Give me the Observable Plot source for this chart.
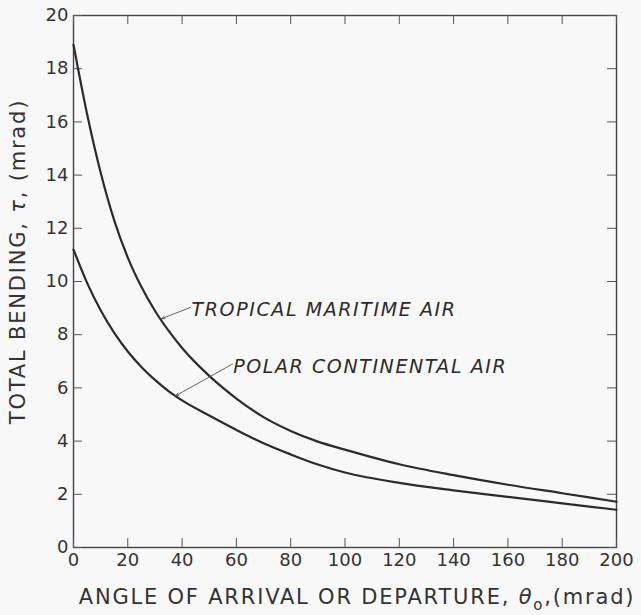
<!DOCTYPE html>
<html><head><meta charset="utf-8">
<script src="https://cdn.jsdelivr.net/npm/d3@7"></script>
<script src="https://cdn.jsdelivr.net/npm/@observablehq/plot@0.6"></script>
<style>body{margin:0;background:#f8f8f8;}</style>
</head><body><div id="chart"></div>
<script>
// Data
const tropicalTheta = [0, 5, 10, 15, 20, 25, 30, 35, 40, 50, 60, 70, 80, 90, 100, 120, 140, 160, 180, 200];
const tropicalBend  = [18.9, 16.3, 14.1, 12.3, 10.9, 9.8, 8.9, 8.15, 7.5, 6.45, 5.6, 4.9, 4.38, 3.98, 3.68, 3.13, 2.72, 2.36, 2.04, 1.72];
const polarTheta = [0, 5, 10, 15, 20, 25, 30, 35, 40, 50, 60, 70, 80, 90, 100, 120, 140, 160, 180, 200];
const polarBend  = [11.2, 9.95, 8.92, 8.07, 7.37, 6.79, 6.3, 5.88, 5.53, 4.96, 4.42, 3.92, 3.5, 3.12, 2.82, 2.43, 2.15, 1.9, 1.66, 1.42];
const xTicks = [0, 20, 40, 60, 80, 100, 120, 140, 160, 180, 200];
const yTicks = [0, 2, 4, 6, 8, 10, 12, 14, 16, 18, 20];
const labelNames = ["TROPICAL MARITIME AIR", "POLAR CONTINENTAL AIR"];
const labelTheta = [43.5, 58.8];
const labelBend = [8.95, 6.78];
const arrowTip = [[32.4, 8.6], [37.6, 5.7]];
const arrowTail = [[43.2, 9.03], [58.6, 6.9]];
const xLabel = "ANGLE OF ARRIVAL OR DEPARTURE, θ₀,(mrad)";
const yLabel = "TOTAL BENDING, τ, (mrad)";

const tropical = tropicalTheta.map((t, i) => ({t, b: tropicalBend[i]}));
const polar = polarTheta.map((t, i) => ({t, b: polarBend[i]}));
const labels = labelNames.map((name, i) => ({name, t: labelTheta[i], b: labelBend[i]}));
const arrows = arrowTip.map((tip, i) => ({x1: arrowTail[i][0], y1: arrowTail[i][1], x2: tip[0], y2: tip[1]}));

const ink = "#2b2b2b";
const W = 641, H = 615, ML = 73, MR = 25, MT = 15, MB = 68, TL = 9;
const fw = W - ML - MR, fh = H - MT - MB;
const chart = Plot.plot({
  width: W, height: H,
  marginLeft: ML, marginRight: MR, marginTop: MT, marginBottom: MB,
  style: {background: "#f8f8f8", fontFamily: "'DejaVu Sans', sans-serif", fontSize: "18px", color: "#333"},
  x: {domain: [0, 200]},
  y: {domain: [0, 20]},
  marks: [
    Plot.frame({stroke: "#444", strokeWidth: 1.4}),
    Plot.axisX({anchor: "bottom", ticks: xTicks, tickSize: 0, tickPadding: 6, label: null}),
    Plot.axisY({anchor: "left", ticks: yTicks, tickSize: 0, tickPadding: 5, label: null}),
    // inward ticks on all four sides
    Plot.ruleX(xTicks, {x: d => d, insetTop: fh - TL, stroke: "#555", strokeWidth: 1}),
    Plot.ruleX(xTicks, {x: d => d, insetBottom: fh - TL, stroke: "#555", strokeWidth: 1}),
    Plot.ruleY(yTicks, {y: d => d, insetRight: fw - TL, stroke: "#555", strokeWidth: 1}),
    Plot.ruleY(yTicks, {y: d => d, insetLeft: fw - TL, stroke: "#555", strokeWidth: 1}),
    Plot.line(tropical, {x: "t", y: "b", curve: "monotone-x", stroke: ink, strokeWidth: 2.2}),
    Plot.line(polar, {x: "t", y: "b", curve: "monotone-x", stroke: ink, strokeWidth: 2.2}),
    Plot.arrow(arrows, {x1: "x1", y1: "y1", x2: "x2", y2: "y2", stroke: "#555", strokeWidth: 0.9, headLength: 6, headAngle: 40}),
    Plot.text(labels, {x: "t", y: "b", text: "name", textAnchor: "start", fontStyle: "italic", fontSize: 19, fill: ink}),
    Plot.text([xLabel], {frameAnchor: "bottom", textAnchor: "middle", dy: 56, dx: 12, fontSize: 21, fill: "#333"}),
    Plot.text([yLabel], {frameAnchor: "left", textAnchor: "middle", rotate: -90, dx: -55, dy: -20, fontSize: 21, fill: "#333"})
  ]
});
document.getElementById("chart").appendChild(chart);

// italic Greek letters and subscript in axis labels
d3.select(chart).selectAll("text").each(function() {
  const el = this;
  const target = el.querySelector("tspan") || el;
  const s = target.textContent;
  if (s.includes("θ₀")) {
    const [a, b] = s.split("θ₀");
    d3.select(el).attr("letter-spacing", 1.8);
    const t = d3.select(target).text(a);
    t.append("tspan").attr("font-style", "italic").text("θ");
    t.append("tspan").attr("font-size", 15).attr("dy", 6).text("o");
    t.append("tspan").attr("dy", -6).text(b);
  } else if (s.includes("τ")) {
    const [a, b] = s.split("τ");
    d3.select(el).attr("letter-spacing", 1.8);
    const t = d3.select(target).text(a);
    t.append("tspan").attr("font-style", "italic").text("τ");
    t.append("tspan").text(b);
  } else if (s.includes("AIR")) {
    d3.select(el).attr("letter-spacing", 1.6);
  }
});
</script>
</body></html>
